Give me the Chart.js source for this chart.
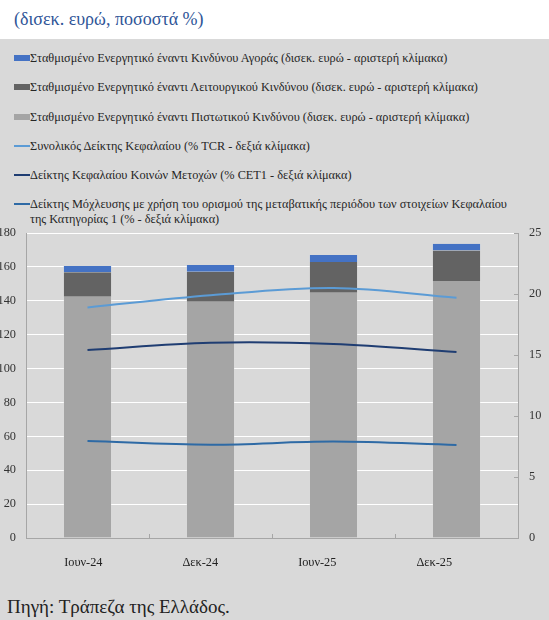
<!DOCTYPE html>
<html lang="el">
<head>
<meta charset="utf-8">
<script src="https://cdn.jsdelivr.net/npm/chart.js@4/dist/chart.umd.min.js"></script>
<style>
  html, body { margin: 0; padding: 0; }
  body { width: 549px; height: 620px; background: #d9d9d9; position: relative; overflow: hidden; font-family: 'Liberation Serif', serif; }
  #titlos { position: absolute; left: 0; top: 0; width: 549px; height: 39px; background: #fff; }
  #titlos span { position: absolute; left: 14px; top: 9px; font-size: 18px; color: #2f5597; }
  #ypomnima { position: absolute; left: 14px; top: 51px; width: 500px; margin: 0; padding: 0; list-style: none; }
  #ypomnima li { position: relative; padding-left: 16px; font-size: 12.3px; line-height: 15px; color: #262626; margin-bottom: 14.3px; }
  #ypomnima i { position: absolute; left: 0; top: 5px; width: 16px; }
  #grafima { position: absolute; left: 0; top: 225px; }
  #pigi { position: absolute; left: 7px; top: 596px; font-size: 19px; color: #222; }
</style>
</head>
<body>
<div id="titlos"><span>(δισεκ. ευρώ, ποσοστά %)</span></div>
<ul id="ypomnima"></ul>
<canvas id="grafima" width="549" height="360"></canvas>
<div id="pigi">Πηγή: Τράπεζα της Ελλάδος.</div>

<script>
const periodoi = ['Ιουν-24', 'Δεκ-24', 'Ιουν-25', 'Δεκ-25']

// σταθμισμένο ενεργητικό (δισεκ. ευρώ)
const pistotikos = [142.4, 139.5, 144.8, 151.7]
const leitourgikos = [14.4, 17.7, 18.1, 17.9]
const agoras = [3.7, 3.9, 4.1, 4.1]

// δείκτες (%)
const tcr = [18.9, 19.9, 20.5, 19.7]
const cet1 = [15.4, 16.0, 15.9, 15.25]
const moxleusi = [7.95, 7.65, 7.9, 7.62]

const aristeriTicks = [0, 20, 40, 60, 80, 100, 120, 140, 160, 180]
const dexiaTicks = [0, 5, 10, 15, 20, 25]

const xromata = {
    agoras: '#4472c4',
    leitourgikos: '#636363',
    pistotikos: '#a5a5a5',
    tcr: '#5b9bd5',
    cet1: '#1f3d72',
    moxleusi: '#2e6aa5'
}

Chart.defaults.font.family = "'Liberation Serif', serif"
Chart.defaults.font.size = 12.3
Chart.defaults.color = '#333'

const grammi = (label, data, color) => ({
    type: 'line',
    label,
    data,
    yAxisID: 'y1',
    borderColor: color,
    backgroundColor: color,
    borderWidth: 2,
    pointRadius: 0,
    tension: 0.35,
    order: 1,
    swatch: 'line'
})

const bara = (label, data, color) => ({
    type: 'bar',
    label,
    data,
    yAxisID: 'y',
    backgroundColor: color,
    borderColor: 'rgba(255,255,255,0.18)',
    borderWidth: { left: 1, right: 1, top: 0, bottom: 0 },
    stack: 'rwa',
    categoryPercentage: 0.8,
    barPercentage: 0.5,
    order: 2,
    swatch: 'box'
})

const datasets = [
    bara('Σταθμισμένο Ενεργητικό έναντι Πιστωτικού Κινδύνου (δισεκ. ευρώ - αριστερή κλίμακα)', pistotikos, xromata.pistotikos),
    bara('Σταθμισμένο Ενεργητικό έναντι Λειτουργικού Κινδύνου (δισεκ. ευρώ - αριστερή κλίμακα)', leitourgikos, xromata.leitourgikos),
    bara('Σταθμισμένο Ενεργητικό έναντι Κινδύνου Αγοράς (δισεκ. ευρώ - αριστερή κλίμακα)', agoras, xromata.agoras),
    grammi('Συνολικός Δείκτης Κεφαλαίου (% TCR - δεξιά κλίμακα)', tcr, xromata.tcr),
    grammi('Δείκτης Κεφαλαίου Κοινών Μετοχών (% CET1 - δεξιά κλίμακα)', cet1, xromata.cet1),
    grammi('Δείκτης Μόχλευσης με χρήση του ορισμού της μεταβατικής περιόδου των στοιχείων Κεφαλαίου της Κατηγορίας 1 (% - δεξιά κλίμακα)', moxleusi, xromata.moxleusi)
]

// σειρά υπομνήματος: αγοράς, λειτουργικός, πιστωτικός, μετά οι γραμμές
const seiraYpomnimatos = [2, 1, 0, 3, 4, 5]

const axonas = '#a6a6a6'

// μικρά εσωτερικά σημάδια στους άξονες (όπως στο excel)
const esoterikaSimadia = {
    id: 'esoterikaSimadia',
    afterDatasetsDraw(chart) {
        const { ctx, chartArea, scales } = chart
        ctx.save()
        ctx.strokeStyle = axonas
        ctx.lineWidth = 1
        ctx.beginPath()
        scales.y1.ticks.forEach(t => {
            const py = Math.round(scales.y1.getPixelForValue(t.value)) + 0.5
            ctx.moveTo(chartArea.right - 4, py)
            ctx.lineTo(chartArea.right, py)
        })
        for (let i = 1; i < periodoi.length; i++) {
            const px = Math.round((scales.x.getPixelForTick(i - 1) + scales.x.getPixelForTick(i)) / 2) + 0.5
            ctx.moveTo(px, chartArea.bottom)
            ctx.lineTo(px, chartArea.bottom - 4)
        }
        ctx.stroke()
        ctx.restore()
    }
}

const ctx = document.getElementById('grafima')

new Chart(ctx, {
    data: { labels: periodoi, datasets },
    options: {
        responsive: false,
        animation: false,
        layout: { padding: { top: 8, left: 0, right: 0, bottom: 0 } },
        plugins: { legend: { display: false }, tooltip: { enabled: false } },
        scales: {
            x: {
                stacked: true,
                grid: { display: false },
                border: { color: axonas },
                ticks: { display: false },
                afterFit: s => { s.height = 1 }
            },
            // άξονας μόνο για τις ετικέτες των περιόδων
            xl: {
                type: 'linear',
                position: 'bottom',
                min: -0.49,
                max: 3.716,
                grid: { display: false, drawTicks: false },
                border: { display: false },
                ticks: { padding: 16, color: '#222', callback: v => periodoi[v] },
                afterBuildTicks: s => { s.ticks = periodoi.map((p, i) => ({ value: i })) },
                afterFit: s => { s.height = 46; s.paddingLeft = 0; s.paddingRight = 0 }
            },
            y: {
                stacked: true,
                position: 'left',
                min: 0,
                max: 180,
                grid: { color: '#ffffff', lineWidth: 1, drawTicks: false },
                border: { color: axonas },
                ticks: { padding: 10, stepSize: 20 },
                afterBuildTicks: s => { s.ticks = aristeriTicks.map(v => ({ value: v })) },
                afterFit: s => { s.width = 26; s.paddingTop = 0; s.paddingBottom = 0 }
            },
            y1: {
                position: 'right',
                min: 0,
                max: 25,
                grid: { drawOnChartArea: false, drawTicks: false },
                border: { color: axonas },
                ticks: { padding: 11 },
                afterBuildTicks: s => { s.ticks = dexiaTicks.map(v => ({ value: v })) },
                afterFit: s => { s.width = 31; s.paddingTop = 0; s.paddingBottom = 0 }
            }
        }
    },
    plugins: [esoterikaSimadia]
})

// υπόμνημα σε html
const ul = document.getElementById('ypomnima')
seiraYpomnimatos.forEach(i => {
    const d = datasets[i]
    const li = document.createElement('li')
    const sw = document.createElement('i')
    sw.style.background = d.type === 'bar' ? d.backgroundColor : d.borderColor
    sw.style.height = d.swatch === 'box' ? '6px' : '2px'
    sw.style.top = d.swatch === 'box' ? '4px' : '6px'
    li.appendChild(sw)
    li.appendChild(document.createTextNode(d.label))
    ul.appendChild(li)
})
</script>
</body>
</html>
